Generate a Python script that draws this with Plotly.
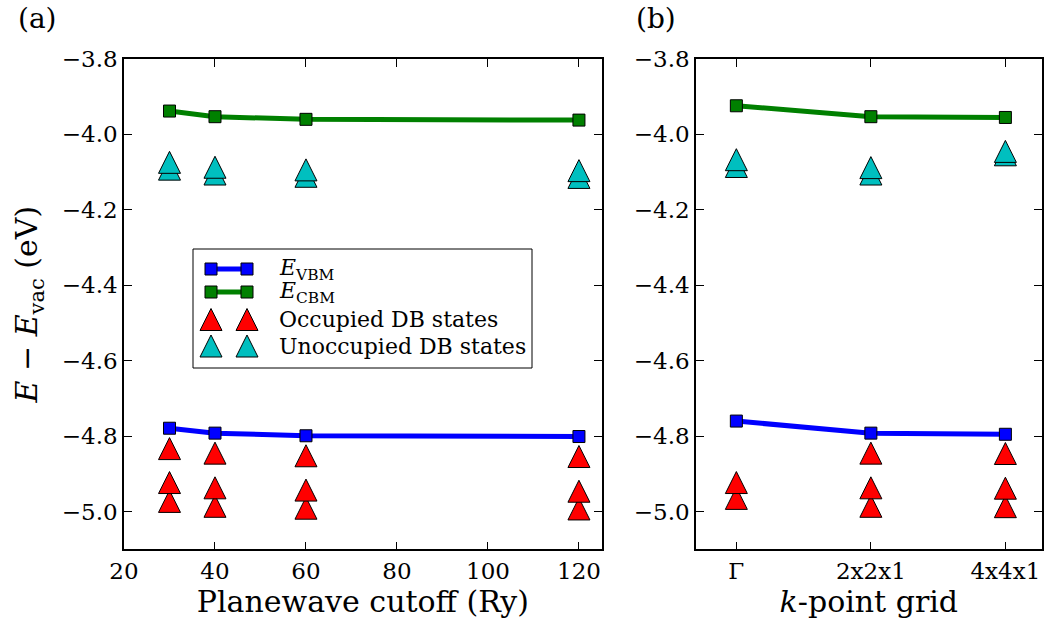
import plotly.graph_objects as go

# ---------------- data ----------------
cutoff = [30, 40, 60, 120]
vbm_a = [-4.779, -4.792, -4.799, -4.801]
cbm_a = [-3.938, -3.953, -3.960, -3.962]
occ_a = [[-4.973, -4.923, -4.833],
         [-4.986, -4.937, -4.845],
         [-4.991, -4.943, -4.852],
         [-4.993, -4.946, -4.854]]
unocc_a = [[-4.092, -4.074],
           [-4.105, -4.087],
           [-4.111, -4.094],
           [-4.114, -4.096]]

kgrid = ["Γ", "2x2x1", "4x4x1"]
vbm_b = [-4.760, -4.792, -4.795]
cbm_b = [-3.924, -3.953, -3.955]
occ_b = [[-4.965, -4.923],
         [-4.986, -4.937, -4.845],
         [-4.987, -4.938, -4.846]]
unocc_b = [[-4.085, -4.067],
           [-4.105, -4.088],
           [-4.054, -4.045]]

yticks = [-3.8, -4.0, -4.2, -4.4, -4.6, -4.8, -5.0]
yticktext = ["−3.8", "−4.0", "−4.2", "−4.4", "−4.6", "−4.8", "−5.0"]
xticks_a = [20, 40, 60, 80, 100, 120]

legend_labels = ["<i>E</i><sub>VBM</sub>", "<i>E</i><sub>CBM</sub>",
                 "Occupied DB states", "Unoccupied DB states"]

# ---------------- style ----------------
FONT = "DejaVu Serif"
BLUE = "#0000ff"
GREEN = "#008000"
RED = "#ff0000"
CYAN = "#00bfbf"
TRI = 22
SQ = 12
W, H = 1048, 628


def flatten(xs, groups):
    fx, fy = [], []
    for x, g in zip(xs, groups):
        for v in g:
            fx.append(x)
            fy.append(v)
    return fx, fy


def tri_marker(color):
    # upward triangle as tall as it is wide, centred on the point
    return dict(symbol="arrow-down", angle=180, standoff=TRI / 2, size=TRI,
                color=color, line=dict(color="black", width=1))


def sq_marker(color):
    return dict(symbol="square", size=SQ, color=color, line=dict(color="black", width=1))


def add_panel(fig, xs, vbm, cbm, occ, unocc, xa, ya):
    fig.add_trace(go.Scatter(x=xs, y=vbm, mode="lines+markers", name=legend_labels[0],
                             line=dict(color=BLUE, width=5), marker=sq_marker(BLUE),
                             xaxis=xa, yaxis=ya, showlegend=False))
    fig.add_trace(go.Scatter(x=xs, y=cbm, mode="lines+markers", name=legend_labels[1],
                             line=dict(color=GREEN, width=5), marker=sq_marker(GREEN),
                             xaxis=xa, yaxis=ya, showlegend=False))
    ox, oy = flatten(xs, occ)
    fig.add_trace(go.Scatter(x=ox, y=oy, mode="markers", name=legend_labels[2],
                             marker=tri_marker(RED), xaxis=xa, yaxis=ya, showlegend=False))
    ux, uy = flatten(xs, unocc)
    fig.add_trace(go.Scatter(x=ux, y=uy, mode="markers", name=legend_labels[3],
                             marker=tri_marker(CYAN), xaxis=xa, yaxis=ya, showlegend=False))


fig = go.Figure()
add_panel(fig, cutoff, vbm_a, cbm_a, occ_a, unocc_a, "x", "y")
add_panel(fig, kgrid, vbm_b, cbm_b, occ_b, unocc_b, "x2", "y2")

# ---------------- custom legend (matplotlib style: two markers per entry) ----------------
# legend axes measured in pixels of the figure
LG_L, LG_R, LG_T, LG_B = 193, 532, 249, 368
row_y = [269, 292, 319.5, 346]
sample_x = [211, 247]
text_x = 277
styles = [("lines+markers", BLUE, sq_marker(BLUE)),
          ("lines+markers", GREEN, sq_marker(GREEN)),
          ("markers", RED, tri_marker(RED)),
          ("markers", CYAN, tri_marker(CYAN))]
for (mode, col, mk), ry in zip(styles, row_y):
    fig.add_trace(go.Scatter(x=sample_x, y=[ry, ry], mode=mode,
                             line=dict(color=col, width=5), marker=mk,
                             xaxis="x3", yaxis="y3", showlegend=False, hoverinfo="skip"))

axis_common = dict(
    showgrid=False, zeroline=False, showline=True, linecolor="black", linewidth=1.5,
    ticks="inside", ticklen=8, tickwidth=1, tickcolor="black", mirror="ticks",
    tickfont=dict(family=FONT, size=23, color="black"), automargin=False,
)
ydom = [1 - 549.3 / H, 1 - 59 / H]

annotations = [
    dict(text="(a)", x=37 / W, y=1, xref="paper", yref="paper", showarrow=False,
         xanchor="center", yanchor="top", font=dict(family=FONT, size=28, color="black")),
    dict(text="(b)", x=656 / W, y=1, xref="paper", yref="paper", showarrow=False,
         xanchor="center", yanchor="top", font=dict(family=FONT, size=28, color="black")),
]
for lab, ry in zip(legend_labels, row_y):
    annotations.append(dict(text=lab, x=text_x, y=ry, xref="x3", yref="y3", showarrow=False,
                            xanchor="left", yanchor="middle",
                            font=dict(family=FONT, size=22, color="black")))

fig.update_layout(
    width=W, height=H,
    margin=dict(l=0, r=0, t=0, b=0, autoexpand=False),
    paper_bgcolor="white", plot_bgcolor="white",
    font=dict(family=FONT, color="black"),
    showlegend=False,
    xaxis=dict(axis_common, domain=[124 / W, 601.7 / W], range=[20, 125],
               tickvals=xticks_a, anchor="y",
               title=dict(text="Planewave cutoff (Ry)", font=dict(family=FONT, size=30), standoff=6)),
    yaxis=dict(axis_common, domain=ydom, range=[-5.1, -3.8], tickvals=yticks, ticktext=yticktext,
               anchor="x",
               title=dict(text="<i>E</i> − <i>E</i><sub>vac</sub> (eV)",
                          font=dict(family=FONT, size=30), standoff=15)),
    xaxis2=dict(axis_common, domain=[696 / W, 1041.7 / W], type="category", range=[-0.3, 2.27],
                anchor="y2",
                title=dict(text="<i>k</i>-point grid", font=dict(family=FONT, size=30), standoff=6)),
    yaxis2=dict(axis_common, domain=ydom, range=[-5.1, -3.8], tickvals=yticks, ticktext=yticktext,
                anchor="x2"),
    xaxis3=dict(domain=[LG_L / W, LG_R / W], range=[LG_L, LG_R], visible=False,
                fixedrange=True, anchor="y3", automargin=False),
    yaxis3=dict(domain=[1 - LG_B / H, 1 - LG_T / H], range=[LG_B, LG_T], visible=False,
                fixedrange=True, anchor="x3", automargin=False),
    shapes=[dict(type="rect", xref="paper", yref="paper",
                 x0=LG_L / W, x1=LG_R / W, y0=1 - LG_B / H, y1=1 - LG_T / H,
                 line=dict(color="black", width=1))],
    annotations=annotations,
)

fig.write_html("out.html")
